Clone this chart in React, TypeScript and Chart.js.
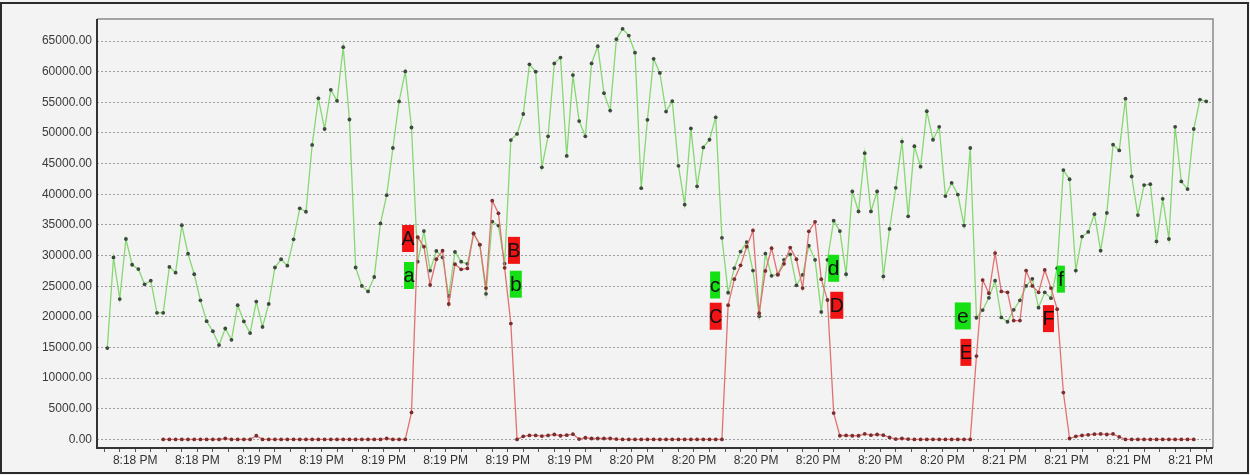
import React, { useEffect, useRef } from 'react';
import { Chart, registerables } from 'chart.js';

Chart.register(...registerables);

// ---- data ----
const timeLabels = [
  '8:18 PM', '8:18 PM',
  '8:19 PM', '8:19 PM', '8:19 PM', '8:19 PM', '8:19 PM', '8:19 PM',
  '8:20 PM', '8:20 PM', '8:20 PM', '8:20 PM', '8:20 PM', '8:20 PM',
  '8:21 PM', '8:21 PM', '8:21 PM', '8:21 PM',
];

const yTickValues = [0, 5000, 10000, 15000, 20000, 25000, 30000, 35000, 40000, 45000, 50000, 55000, 60000, 65000];

const greenValues = [
  14900, 29700, 22900, 32700, 28500, 27800, 25300, 25900, 20650, 20650,
  28150, 27200, 34950, 30300, 26950, 22700, 19300, 17650, 15400, 18100,
  16250, 21900, 19250, 17350, 22500, 18350, 22100, 28050, 29400, 28350,
  32650, 37700, 37150, 48050, 55650, 50650, 57050, 55250, 64000, 52200,
  28050, 25050, 24150, 26500, 35250, 39850, 47550, 55150, 60050, 50900,
  29000, 34000, 27550, 30750, 29700, 23400, 30600, 29000, 28650, 33600,
  31750, 23750, 35550, 34900, 28700, 48850, 49850, 53100, 61200, 60000,
  44400, 49450, 61350, 62300, 46250, 59450, 51950, 49450, 61350, 64150,
  56500, 53650, 65300, 67000, 65900, 63100, 41000, 52150, 62100, 59800,
  53500, 55200, 44650, 38300, 50750, 41300, 47650, 48900, 52550, 32900,
  23950, 27950, 30650, 32200, 27550, 20100, 30300, 26700, 26950, 29300,
  30200, 25150, 26850, 31600, 29300, 20800, 29300, 35700, 34000, 26950,
  40450, 37200, 46700, 37200, 40450, 26600, 34350, 41050, 48600, 36400,
  47850, 44500, 53550, 48900, 51000, 39700, 41850, 39950, 34900, 47550,
  19850, 21100, 23100, 25900, 19900, 19200, 21150, 22700, 25050, 26200,
  21500, 24000, 23050, 27950, 43950, 42450, 27550, 33100, 33850, 36750,
  30800, 36950, 48100, 47150, 55600, 42900, 36600, 41500, 41650, 32300,
  39250, 32700, 51000, 42100, 40850, 50650, 55450, 55150,
];

const redValues: (number | null)[] = [
  null, null, null, null, null, null, null, null, null, 0,
  0, 0, 0, 0, 0, 0, 0, 0, 0, 150,
  0, 0, 0, 0, 600, 0, 0, 0, 0, 0,
  0, 0, 0, 0, 0, 0, 0, 0, 0, 0,
  0, 0, 0, 0, 0, 150, 0, 0, 0, 4400,
  33000, 31450, 25200, 29400, 30800, 22100, 28600, 27750, 27900, 33600,
  31800, 24700, 38950, 36900, 28000, 18900, 0, 500, 650, 650,
  550, 650, 800, 600, 700, 850, 50, 270, 150, 150,
  150, 150, 50, 0, 0, 0, 0, 0, 0, 0,
  0, 0, 0, 0, 0, 0, 0, 0, 0, 0,
  21900, 26150, 28400, 31450, 34100, 20600, 27500, 31200, 26850, 28650,
  31300, 29400, 24700, 33950, 35500, 26150, 22750, 4300, 600, 650,
  600, 600, 900, 700, 800, 700, 330, 50, 150, 50,
  0, 0, 0, 0, 0, 0, 0, 0, 0, 0,
  13600, 26000, 23850, 30400, 24150, 24000, 19400, 19400, 27550, 25050,
  24000, 27650, 24700, 21250, 7650, 150, 500, 650, 750, 850,
  900, 800, 900, 400, 0, 0, 0, 0, 0, 0,
  0, 0, 0, 0, 0, 0, null, null,
];

// letter markers: text, x position (sample index), y position (value)
const markerLetters = [
  { text: 'A', at: 48.45, level: 32780, kind: 'red', w: 12 },
  { text: 'a', at: 48.6, level: 26750, kind: 'green', w: 10 },
  { text: 'B', at: 65.5, level: 30850, kind: 'red', w: 12 },
  { text: 'b', at: 65.8, level: 25330, kind: 'green', w: 12 },
  { text: 'c', at: 97.9, level: 25200, kind: 'green', w: 10 },
  { text: 'C', at: 98.0, level: 20100, kind: 'red', w: 12 },
  { text: 'd', at: 117.0, level: 27920, kind: 'green', w: 11 },
  { text: 'D', at: 117.5, level: 21890, kind: 'red', w: 13 },
  { text: 'e', at: 137.8, level: 20150, kind: 'green', w: 16 },
  { text: 'E', at: 138.3, level: 14200, kind: 'red', w: 11 },
  { text: 'F', at: 151.6, level: 19710, kind: 'red', w: 11 },
  { text: 'f', at: 153.6, level: 26150, kind: 'green', w: 8 },
];

const X_MIN = -1.66;
const X_MAX = 178.1;
const TICK_START = -0.5;
const TICK_STEP = 2.5;
const LABEL_EVERY = 4;
const FIRST_LABEL_TICK = 2;

const W = 1250;
const H = 475;

const framePlugin = {
  id: 'frame',
  beforeDraw(chart: any) {
    const { ctx } = chart;
    ctx.save();
    ctx.fillStyle = '#f3f3f3';
    ctx.fillRect(0, 0, W, H);
    ctx.restore();
  },
  afterDatasetsDraw(chart: any) {
    const { ctx, chartArea: ca, scales } = chart;
    const x = scales.x;
    const y = scales.y;
    ctx.save();
    // letter boxes
    markerLetters.forEach((m) => {
      const cx = x.getPixelForValue(m.at);
      const cy = y.getPixelForValue(m.level);
      ctx.fillStyle = m.kind === 'red' ? '#f01414' : '#14e014';
      ctx.fillRect(cx - m.w / 2, cy - 13.5, m.w, 27);
      ctx.fillStyle = '#111';
      ctx.font = '21px "Liberation Sans", Arial, sans-serif';
      ctx.textAlign = 'center';
      ctx.textBaseline = 'middle';
      ctx.fillText(m.text, cx, cy + 1, m.w + 1);
    });
    ctx.restore();
  },
  afterDraw(chart: any) {
    const { ctx, chartArea: ca } = chart;
    ctx.save();
    // plot frame
    ctx.strokeStyle = '#8a8a8a';
    ctx.lineWidth = 1.5;
    ctx.beginPath();
    ctx.moveTo(ca.left, ca.top);
    ctx.lineTo(ca.right, ca.top);
    ctx.lineTo(ca.right, ca.bottom);
    ctx.stroke();
    ctx.strokeStyle = '#333';
    ctx.lineWidth = 2;
    ctx.beginPath();
    ctx.moveTo(ca.left, ca.top);
    ctx.lineTo(ca.left, ca.bottom);
    ctx.lineTo(ca.right, ca.bottom);
    ctx.stroke();
    // outer frame
    ctx.strokeStyle = '#2a2a2a';
    ctx.lineWidth = 2;
    ctx.strokeRect(1, 3, W - 3, H - 5);
    ctx.restore();
  },
};

export default function App() {
  const canvasRef = useRef<HTMLCanvasElement | null>(null);

  useEffect(() => {
    const canvas = canvasRef.current;
    if (!canvas) return;
    const chart = new Chart(canvas, {
      type: 'line',
      data: {
        datasets: [
          {
            label: 'red',
            data: redValues.map((v, i) => ({ x: i, y: v })),
            borderColor: '#e07272',
            backgroundColor: '#7a2e2e',
            pointBackgroundColor: '#7a2e2e',
            pointBorderWidth: 0,
            pointRadius: 1.9,
            borderWidth: 1.3,
            tension: 0,
            spanGaps: false,
            order: 0,
          },
          {
            label: 'green',
            data: greenValues.map((v, i) => ({ x: i, y: v })),
            borderColor: '#86d872',
            backgroundColor: '#3c4a3c',
            pointBackgroundColor: '#3c4a3c',
            pointBorderWidth: 0,
            pointRadius: 1.9,
            borderWidth: 1.3,
            tension: 0,
            order: 1,
          },
        ],
      },
      options: {
        animation: false,
        responsive: false,
        devicePixelRatio: 1,
        layout: { padding: { left: 0, right: 37, top: 19, bottom: 0 } },
        plugins: {
          legend: { display: false },
          tooltip: { enabled: false },
          title: { display: false },
        },
        scales: {
          x: {
            type: 'linear',
            min: X_MIN,
            max: X_MAX,
            afterBuildTicks: (scale: any) => {
              const ticks = [];
              for (let k = 0; TICK_START + k * TICK_STEP <= X_MAX; k++) {
                ticks.push({ value: TICK_START + k * TICK_STEP });
              }
              scale.ticks = ticks;
            },
            afterFit: (scale: any) => {
              scale.height = 27;
            },
            grid: {
              drawOnChartArea: false,
              drawTicks: true,
              tickLength: 4,
              color: '#555',
              lineWidth: 1,
            },
            border: { display: false },
            ticks: {
              autoSkip: false,
              maxRotation: 0,
              minRotation: 0,
              padding: 1,
              color: '#333',
              font: { family: '"Liberation Sans", Arial, sans-serif', size: 12 },
              callback: (value: any) => {
                const k = Math.round((Number(value) - TICK_START) / TICK_STEP);
                if (k >= FIRST_LABEL_TICK && (k - FIRST_LABEL_TICK) % LABEL_EVERY === 0) {
                  return timeLabels[(k - FIRST_LABEL_TICK) / LABEL_EVERY] ?? '';
                }
                return '';
              },
            },
          },
          y: {
            type: 'linear',
            min: -1400,
            max: 68600,
            afterBuildTicks: (scale: any) => {
              scale.ticks = yTickValues.map((v) => ({ value: v }));
            },
            afterFit: (scale: any) => {
              scale.width = 97;
            },
            grid: {
              drawTicks: false,
              color: '#a0a0a0',
              lineWidth: 1,
            },
            border: { display: false, dash: [2, 2] },
            ticks: {
              padding: 5,
              color: '#3a3a3a',
              font: { family: '"Liberation Sans", Arial, sans-serif', size: 12 },
              callback: (value: any) => Number(value).toFixed(2),
            },
          },
        },
      },
      plugins: [framePlugin],
    } as any);
    return () => {
      chart.destroy();
    };
  }, []);

  return (
    <div style={{ position: 'absolute', left: 0, top: 0, width: W, height: H }}>
      <canvas ref={canvasRef} width={W} height={H} style={{ display: 'block' }} />
    </div>
  );
}
